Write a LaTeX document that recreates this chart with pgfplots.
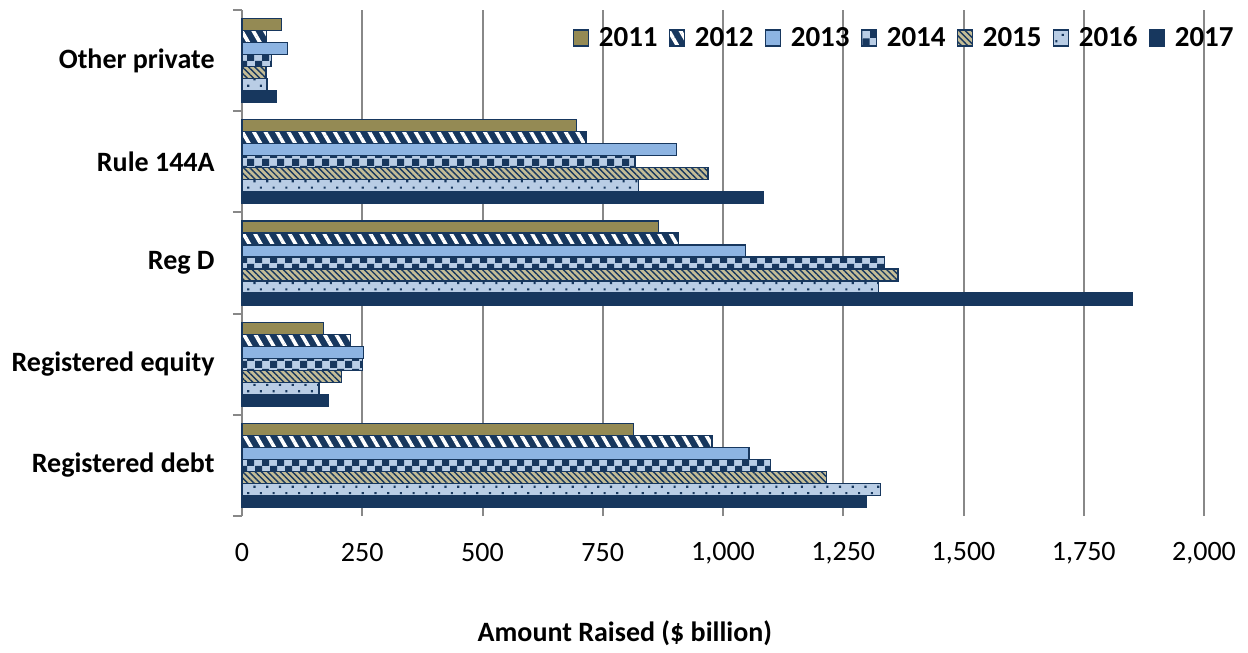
\documentclass[border=0pt]{standalone}
\usepackage{fontspec}
\setmainfont{Carlito}
\usepackage{pgfplots}
\pgfplotsset{compat=1.18}
\usetikzlibrary{patterns,patterns.meta}

\definecolor{cOlive}{HTML}{948A54}
\definecolor{cNavy}{HTML}{17375E}
\definecolor{cLB}{HTML}{8DB4E2}
\definecolor{cPale}{HTML}{B9CDE5}
\definecolor{cTan}{HTML}{C4BD97}
\definecolor{cGrid}{HTML}{888888}

\pgfdeclarepatternformonly{mychecker}{\pgfpointorigin}{\pgfqpoint{7.5pt}{7.5pt}}{\pgfqpoint{7.5pt}{7.5pt}}{%
 \pgfpathrectangle{\pgfpointorigin}{\pgfqpoint{3.75pt}{3.75pt}}%
 \pgfpathrectangle{\pgfqpoint{3.75pt}{3.75pt}}{\pgfqpoint{3.75pt}{3.75pt}}%
 \pgfusepath{fill}}

\begin{document}
\begin{tikzpicture}
\begin{axis}[
 scale only axis, width=481pt, height=253pt,
 clip=false,
 xbar=0pt, bar width=6pt,
 xmin=0, xmax=2000, ymin=-0.5, ymax=4.5,
 xtick={0,250,...,2000},
 ytick={0,...,4},
 yticklabels={Registered debt, Registered equity, Reg D, Rule 144A, Other private},
 minor ytick={-0.5,0.5,...,4.5},
 major tick length=0pt, minor tick length=4.5pt, tick align=outside,
 minor tick style={color=cGrid, line width=1pt},
 axis y line*=left, axis x line*=bottom,
 y axis line style={cGrid, line width=1pt},
 x axis line style={draw=none},
 xmajorgrids, major grid style={cGrid, line width=1pt},
 font=\fontsize{14}{16.8}\selectfont,
 /pgf/number format/assume math mode=true,
 /pgf/number format/1000 sep={,},
 xticklabel style={font=\fontsize{14}{16.8}\selectfont, anchor=center, yshift=-18.5pt},
 yticklabel style={font=\fontsize{14}{16.8}\selectfont\bfseries, anchor=east, inner sep=0pt, xshift=-13.5pt},
 xlabel={Amount Raised (\$ billion)},
 xlabel style={font=\fontsize{14}{16.8}\selectfont\bfseries, at={(axis description cs:0.398,0)}, anchor=center, yshift=-58.5pt},
 legend style={at={(axis description cs:1,1)}, anchor=east, xshift=20pt, yshift=-14pt,
   draw=none, fill=none, font=\fontsize{14.5}{17}\selectfont\bfseries,
   /tikz/every odd column/.append style={column sep=3pt},
   /tikz/every even column/.append style={column sep=3.5pt}},
 legend columns=-1,
 reverse legend,
 legend image code/.code={\draw[#1] (0pt,-4pt) rectangle (7.5pt,4pt);},
 every axis plot/.append style={line width=0.6pt},
]
\addplot[fill=cNavy, draw=cNavy] coordinates {(1298,0) (180,1) (1852,2) (1083,3) (72,4)};
\addlegendentry{2017}
\addplot[preaction={fill=cPale}, pattern={Dots[distance=4.5pt, angle=45, radius=0.75pt]}, pattern color=cNavy, draw=cNavy] coordinates {(1327,0) (160,1) (1324,2) (824,3) (52,4)};
\addlegendentry{2016}
\addplot[preaction={fill=cTan}, pattern={Lines[angle=-45, distance=2.2pt, line width=0.7pt]}, pattern color=cNavy, draw=cNavy] coordinates {(1215,0) (207,1) (1364,2) (969,3) (50,4)};
\addlegendentry{2015}
\addplot[preaction={fill=cPale}, pattern=mychecker, pattern color=cNavy, draw=cNavy] coordinates {(1099,0) (251,1) (1335,2) (817,3) (62,4)};
\addlegendentry{2014}
\addplot[fill=cLB, draw=cNavy] coordinates {(1054,0) (252,1) (1046,2) (903,3) (95,4)};
\addlegendentry{2013}
\addplot[preaction={fill=cNavy}, pattern={Lines[angle=-60, distance=5pt, line width=1.8pt]}, pattern color=white, draw=cNavy] coordinates {(977,0) (226,1) (907,2) (715,3) (51,4)};
\addlegendentry{2012}
\addplot[fill=cOlive, draw=cNavy] coordinates {(814,0) (169,1) (866,2) (696,3) (82,4)};
\addlegendentry{2011}
\path (axis cs:0,-0.5) ++(-121pt,-65.5pt);
\path (axis cs:2000,4.5) ++(22pt,5pt);
\end{axis}
\end{tikzpicture}
\end{document}
